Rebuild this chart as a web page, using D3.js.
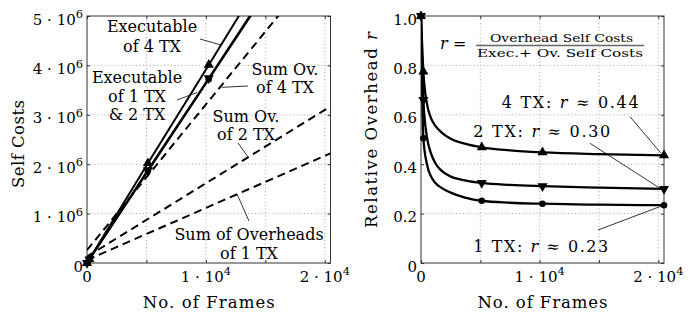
<!DOCTYPE html>
<html>
<head>
<meta charset="utf-8">
<script src="https://cdn.jsdelivr.net/npm/d3@7"></script>
<style>
body { margin: 0; background: #fff; }
svg text { font-family: "DejaVu Serif", serif; fill: #000; }
.grid line { stroke: #aaa; stroke-width: 1; stroke-dasharray: 1, 2.5; }
.ticks line { stroke: #333; }
.ticks path { display: none; }
</style>
</head>
<body>
<div id="chart"></div>
<script>
// ---- data ----
// frame counts where the measurements were taken (markers)
const markerFrames = [1, 200, 5120, 10240, 20480];
// executable self costs per configuration
const execTX4 = [400, 78000, 2020000, 4010000, 8020000];
const execTX2 = [370, 73000, 1880000, 3740000, 7480000];
const execTX1 = [365, 72000, 1860000, 3720000, 7440000];

// sum of overheads (dashed straight lines)
const ovFrames = [0, 20480];
const ovTX4 = [260000, 6300000];
const ovTX2 = [130000, 3170000];
const ovTX1 = [60000, 2220000];

// relative overhead r
const curveFrames = [1, 200, 500, 800, 1200, 1700, 2500, 3700, 5120, 7500, 10240, 15000, 20480];
const relTX4 = [1.0, 0.775, 0.645, 0.592, 0.556, 0.53, 0.503, 0.483, 0.468, 0.456, 0.448, 0.441, 0.436];
const relTX2 = [1.0, 0.66, 0.51, 0.45, 0.405, 0.375, 0.35, 0.335, 0.324, 0.316, 0.311, 0.305, 0.300];
const relTX1 = [1.0, 0.505, 0.40, 0.355, 0.325, 0.305, 0.285, 0.265, 0.252, 0.244, 0.240, 0.236, 0.234];

// ticks
const frameTicks = [0, 5000, 10000, 15000, 20000];
const frameTickLabels = ["0", "", "1·10^4", "", "2·10^4"];
const costTicks = [0, 1e6, 2e6, 3e6, 4e6, 5e6];
const costTickLabels = ["0", "1·10^6", "2·10^6", "3·10^6", "4·10^6", "5·10^6"];
const relTicks = [0, 0.2, 0.4, 0.6, 0.8, 1.0];
const relTickLabels = ["0", "0.2", "0.4", "0.6", "0.8", "1.0"];

// ---- layout ----
var W = 690, H = 314
var svg = d3.select("#chart").append("svg").attr("width", W).attr("height", H)

var P1 = {x0: 87, x1: 330.5, y0: 16, y1: 263}
var P2 = {x0: 421, x1: 664, y0: 16, y1: 263}

var xL = d3.scaleLinear().domain([0, 20480]).range([P1.x0, P1.x1])
var yL = d3.scaleLinear().domain([0, 5e6]).range([P1.y1, P1.y0])
var xR = d3.scaleLinear().domain([0, 20480]).range([P2.x0, P2.x1])
var yR = d3.scaleLinear().domain([0, 1]).range([P2.y1, P2.y0])

// text with "a·10^b" style superscripts
function texLabel(sel, str, size) {
  var parts = str.split("^")
  sel.append("tspan").text(parts[0].replace("·", " · "))
  if (parts.length > 1) {
    sel.append("tspan").attr("font-size", size * 0.76).attr("dy", -size * 0.42).text(parts[1])
  }
}

function drawPanel(P, x, y, xt, xl, yt, yl, id) {
  var g = svg.append("g")
  // grid
  var grid = g.append("g").attr("class", "grid")
  grid.selectAll("line.v").data(xt.filter(d => d > 0)).enter().append("line")
    .attr("x1", d => x(d)).attr("x2", d => x(d)).attr("y1", P.y0).attr("y2", P.y1)
  grid.selectAll("line.h").data(yt.filter(d => d > 0 && y(d) > P.y0 + 1)).enter().append("line")
    .attr("x1", P.x0).attr("x2", P.x1).attr("y1", d => y(d)).attr("y2", d => y(d))

  // inward ticks on all four sides
  g.append("g").attr("class", "ticks").attr("transform", "translate(0," + P.y1 + ")")
    .call(d3.axisBottom(x).tickValues(xt).tickSizeInner(-3).tickSizeOuter(0).tickFormat(""))
  g.append("g").attr("class", "ticks").attr("transform", "translate(0," + P.y0 + ")")
    .call(d3.axisTop(x).tickValues(xt).tickSizeInner(-3).tickSizeOuter(0).tickFormat(""))
  g.append("g").attr("class", "ticks").attr("transform", "translate(" + P.x0 + ",0)")
    .call(d3.axisLeft(y).tickValues(yt).tickSizeInner(-3).tickSizeOuter(0).tickFormat(""))
  g.append("g").attr("class", "ticks").attr("transform", "translate(" + P.x1 + ",0)")
    .call(d3.axisRight(y).tickValues(yt).tickSizeInner(-3).tickSizeOuter(0).tickFormat(""))

  g.append("rect").attr("x", P.x0).attr("y", P.y0)
    .attr("width", P.x1 - P.x0).attr("height", P.y1 - P.y0)
    .attr("fill", "none").attr("stroke", "#333").attr("stroke-width", 1)

  // tick labels
  xt.forEach(function(d, i) {
    if (!xl[i]) return
    var t = g.append("text").attr("x", x(d)).attr("y", P.y1 + 18.5)
      .attr("text-anchor", "middle").attr("font-size", 15)
    texLabel(t, xl[i], 15)
  })
  yt.forEach(function(d, i) {
    var t = g.append("text").attr("x", P.x0 - 4).attr("y", y(d) + 8.5)
      .attr("text-anchor", "end").attr("font-size", 15)
    texLabel(t, yl[i], 15)
  })

  svg.append("clipPath").attr("id", id).append("rect")
    .attr("x", P.x0).attr("y", P.y0).attr("width", P.x1 - P.x0).attr("height", P.y1 - P.y0)
  return g
}

drawPanel(P1, xL, yL, frameTicks, frameTickLabels, costTicks, costTickLabels, "clipL")
drawPanel(P2, xR, yR, frameTicks, frameTickLabels, relTicks, relTickLabels, "clipR")

// axis titles
svg.append("text").attr("x", (P1.x0 + P1.x1) / 2).attr("y", 308).attr("text-anchor", "middle")
  .attr("font-size", 16.5).attr("textLength", 132).text("No. of Frames")
svg.append("text").attr("x", (P2.x0 + P2.x1) / 2).attr("y", 308).attr("text-anchor", "middle")
  .attr("font-size", 16.5).attr("textLength", 130).text("No. of Frames")
svg.append("text").attr("transform", "translate(23.5,144) rotate(-90)").attr("text-anchor", "middle")
  .attr("font-size", 16.5).attr("textLength", 88).text("Self Costs")
var rl = svg.append("text").attr("transform", "translate(377,130) rotate(-90)").attr("text-anchor", "middle")
  .attr("font-size", 16.5).attr("textLength", 196)
rl.append("tspan").text("Relative Overhead ")
rl.append("tspan").attr("font-style", "italic").text("r")

// ---- left panel: self costs ----
var gL = svg.append("g").attr("clip-path", "url(#clipL)")
var lineL = d3.line().x(d => xL(d[0])).y(d => yL(d[1]))

;[ovTX4, ovTX2, ovTX1].forEach(function(s) {
  gL.append("path").datum(ovFrames.map((f, i) => [f, s[i]]))
    .attr("d", lineL).attr("fill", "none").attr("stroke", "#000")
    .attr("stroke-width", 2).attr("stroke-dasharray", "8,5")
})
;[execTX4, execTX2, execTX1].forEach(function(s) {
  gL.append("path").datum(markerFrames.map((f, i) => [f, s[i]]))
    .attr("d", lineL).attr("fill", "none").attr("stroke", "#000").attr("stroke-width", 2)
})

var tri = d3.symbol().type(d3.symbolTriangle).size(44)
function markers(g, x, y, frames, vals, kind, ymax) {
  frames.forEach(function(f, i) {
    if (markerFrames.indexOf(f) < 0 || vals[i] > ymax) return
    if (kind == "circle") {
      g.append("circle").attr("cx", x(f)).attr("cy", y(vals[i])).attr("r", 3.3).attr("fill", "#000")
    } else {
      g.append("path").attr("d", tri)
        .attr("transform", "translate(" + x(f) + "," + y(vals[i]) + ")" + (kind == "down" ? " rotate(180)" : ""))
        .attr("fill", "#000")
    }
  })
}
var mL = svg.append("g")
markers(mL, xL, yL, markerFrames, execTX1, "circle", 5e6)
markers(mL, xL, yL, markerFrames, execTX2, "down", 5e6)
markers(mL, xL, yL, markerFrames, execTX4, "up", 5e6)

// annotations left
function note(g, x, lines) {
  lines.forEach(function(l) {
    g.append("text").attr("x", x).attr("y", l[1]).attr("text-anchor", "middle")
      .attr("font-size", 16).text(l[0])
  })
}
function leader(g, x1, y1, x2, y2) {
  g.append("line").attr("x1", x1).attr("y1", y1).attr("x2", x2).attr("y2", y2)
    .attr("stroke", "#000").attr("stroke-width", 0.8)
}
var aL = svg.append("g")
note(aL, 152, [["Executable", 31.7], ["of 4 TX", 51.7]])
leader(aL, 200, 39, 221, 45)
note(aL, 137, [["Executable", 83], ["of 1 TX", 101.5], ["& 2 TX", 120]])
leader(aL, 177, 100, 197, 92.5)
note(aL, 285, [["Sum Ov.", 74.5], ["of 4 TX", 93]])
leader(aL, 248, 86, 222, 87.3)
note(aL, 246, [["Sum Ov.", 121.5], ["of 2 TX", 140]])
leader(aL, 238, 143, 248, 157)
note(aL, 249, [["Sum of Overheads", 240], ["of 1 TX", 259.3]])
leader(aL, 249, 221, 237, 194)

// ---- right panel: relative overhead ----
var gR = svg.append("g").attr("clip-path", "url(#clipR)")
var lineR = d3.line().x(d => xR(d[0])).y(d => yR(d[1])).curve(d3.curveMonotoneX)
;[relTX4, relTX2, relTX1].forEach(function(s) {
  gR.append("path").datum(curveFrames.map((f, i) => [f, s[i]]))
    .attr("d", lineR).attr("fill", "none").attr("stroke", "#000").attr("stroke-width", 2.3)
})
var mR = svg.append("g")
markers(mR, xR, yR, curveFrames, relTX1, "circle", 2)
markers(mR, xR, yR, curveFrames, relTX2, "down", 2)
markers(mR, xR, yR, curveFrames, relTX4, "up", 2)

// formula
var fg = svg.append("g").attr("fill", "#222")
fg.append("text").attr("x", 440).attr("y", 48.5).attr("font-size", 16).attr("font-style", "italic").text("r")
fg.append("text").attr("x", 453).attr("y", 48.5).attr("font-size", 16).text("=")
fg.append("text").attr("x", 561.5).attr("y", 41.5).attr("text-anchor", "middle")
  .attr("font-size", 11.5).attr("textLength", 143).attr("lengthAdjust", "spacingAndGlyphs")
  .text("Overhead Self Costs")
fg.append("line").attr("x1", 476).attr("x2", 644).attr("y1", 45.5).attr("y2", 45.5)
  .attr("stroke", "#666").attr("stroke-width", 1.5)
fg.append("text").attr("x", 560).attr("y", 56.5).attr("text-anchor", "middle")
  .attr("font-size", 11.5).attr("textLength", 166).attr("lengthAdjust", "spacingAndGlyphs")
  .text("Exec.+ Ov. Self Costs")

// r annotations
function rNote(x, y, tx, val, len) {
  var t = svg.append("text").attr("x", x).attr("y", y).attr("font-size", 16).attr("textLength", len)
  t.append("tspan").text(tx + " TX: ")
  t.append("tspan").attr("font-style", "italic").text("r")
  t.append("tspan").text(" ≈ " + val)
}
rNote(501.7, 108.3, 4, "0.44", 137)
rNote(473.3, 136.7, 2, "0.30", 137)
rNote(473.3, 251.7, 1, "0.23", 135)
var last = curveFrames.length - 1
leader(svg, 630, 116.7, xR(curveFrames[last]) - 3, yR(relTX4[last]) - 2)
leader(svg, 590, 143.3, xR(curveFrames[last]) - 3, yR(relTX2[last]))
leader(svg, 598, 230, xR(curveFrames[last]) - 3, yR(relTX1[last]) + 1)
</script>
</body>
</html>
